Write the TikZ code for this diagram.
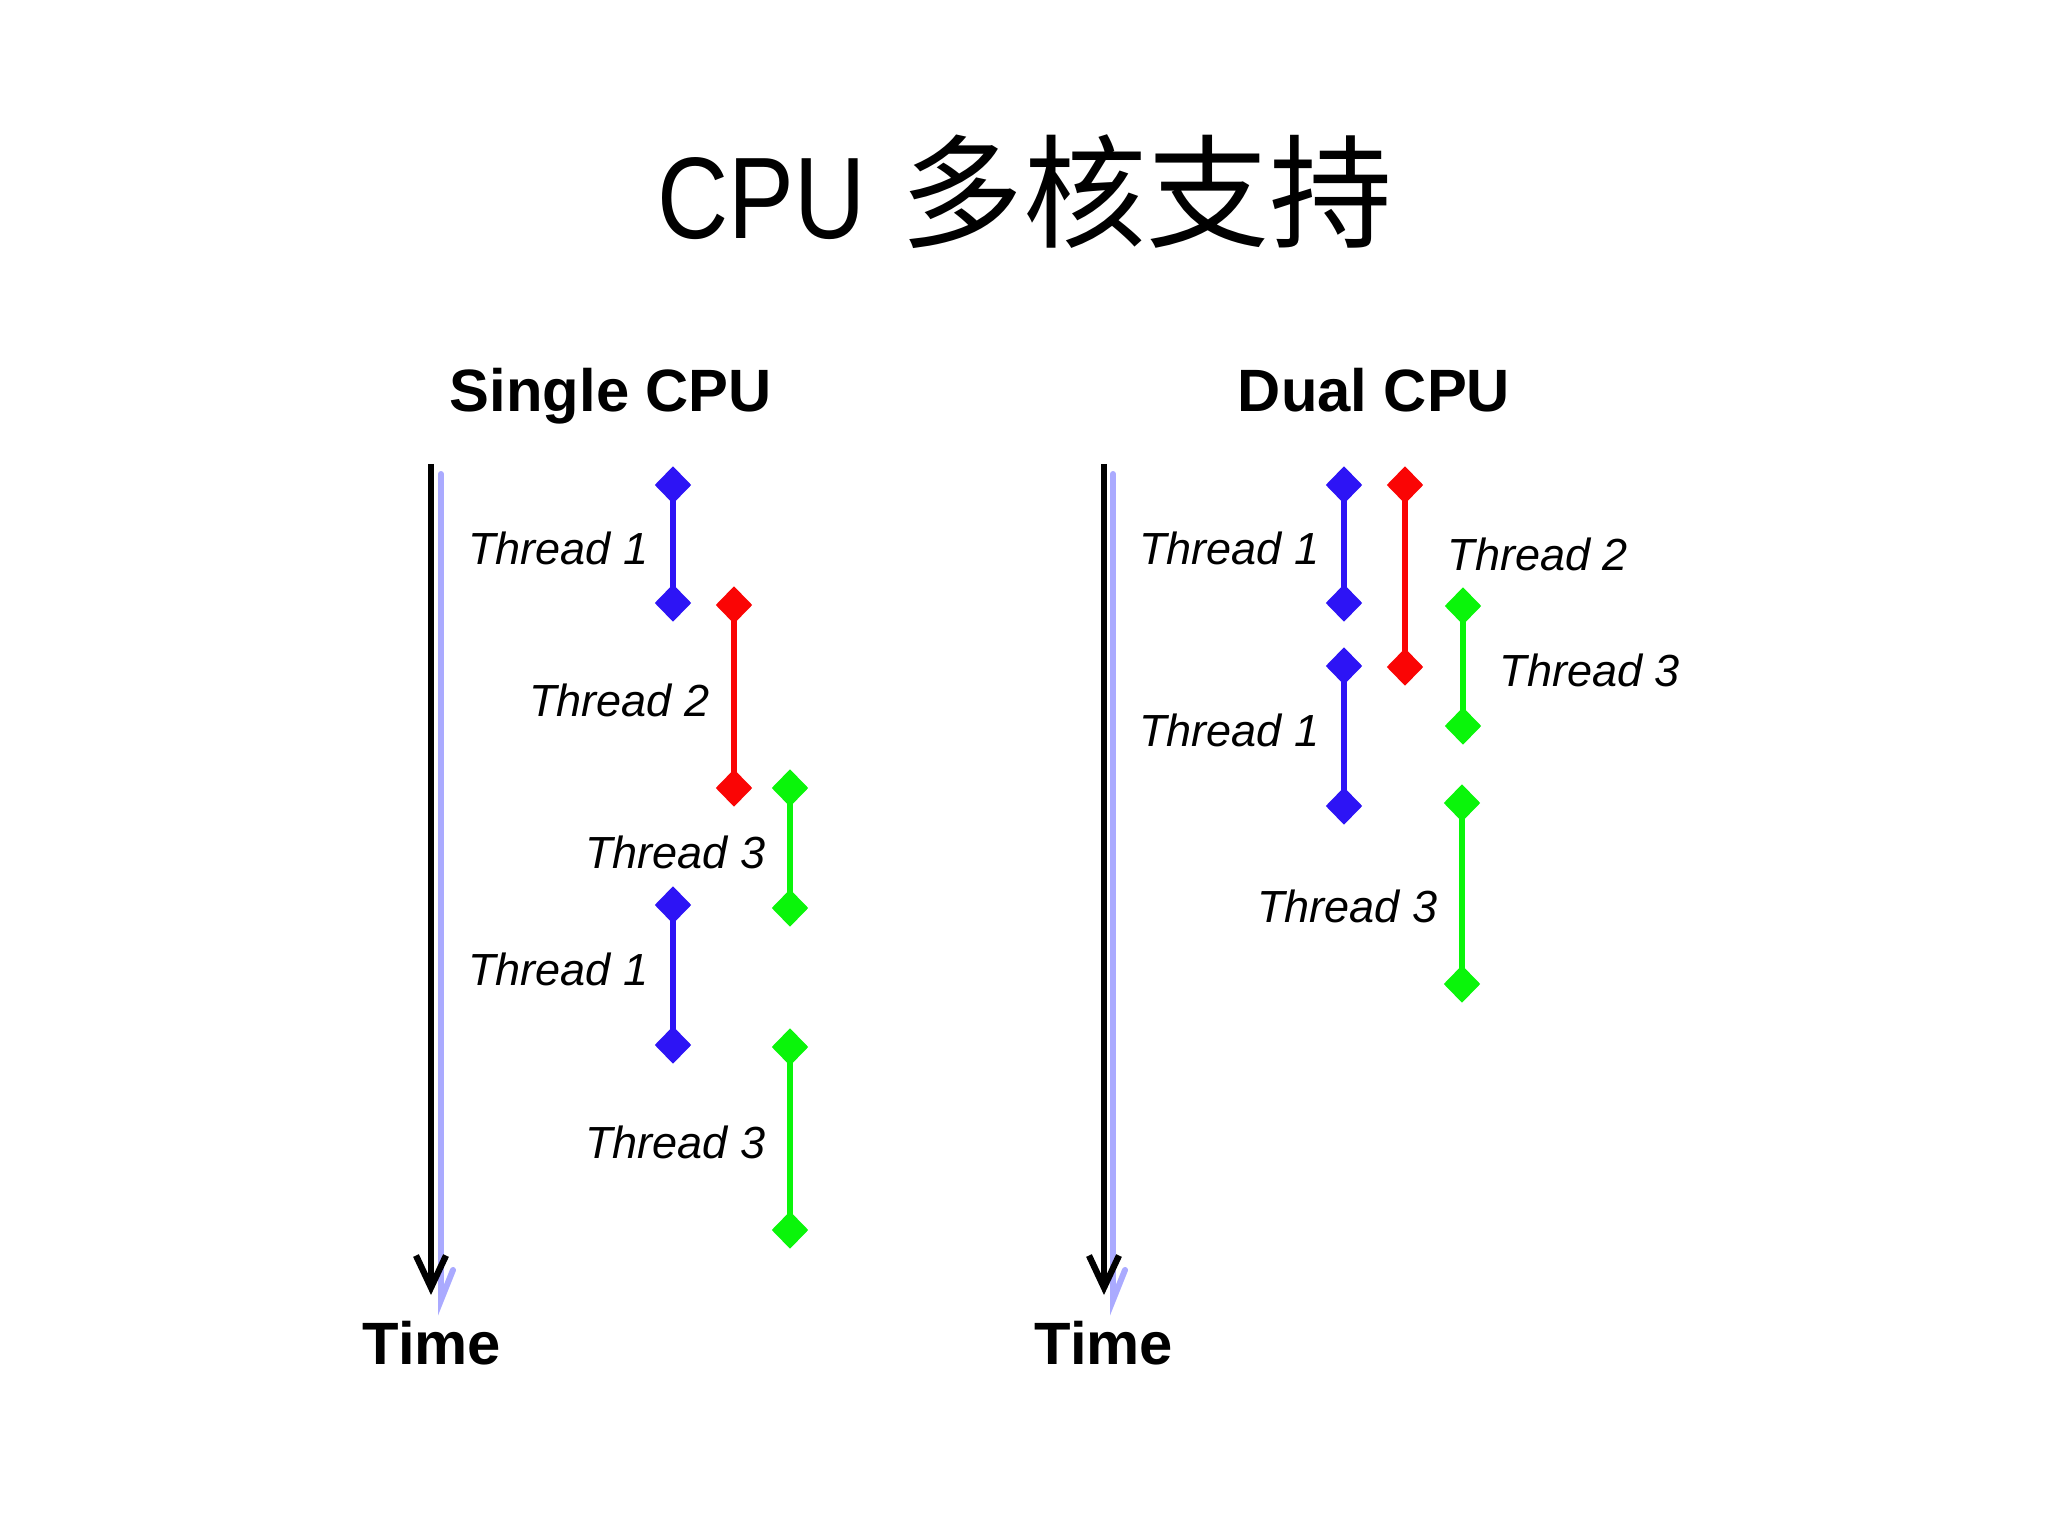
\documentclass[tikz,border=0pt]{standalone}
\usepackage{fontspec}
\setmainfont{Liberation Sans}
\newfontfamily\cjk{Noto Sans CJK SC}
\newfontfamily\narrowsans[FakeStretch=0.85]{Liberation Sans}
\usetikzlibrary{
  positioning,
  shapes.geometric,
  arrows.meta
}
\definecolor{thblue}{RGB}{45,20,245}
\definecolor{thred}{RGB}{250,5,5}
\definecolor{thgreen}{RGB}{10,245,10}
\definecolor{axshade}{RGB}{170,170,255}

\begin{document}
\begin{tikzpicture}[
  x=1cm, y=-1cm,
  tick/.style={
     diamond,
     fill,
     inner sep=0pt,
     minimum width=3.7mm,
     minimum height=3.8mm
  },
  run/.style={line width=1.9pt},
  thread/.style={
     font=\fontsize{12.8}{14}\selectfont\itshape,
     inner sep=0pt,
     yshift=-0.4mm
  },
  heading/.style={
     font=\fontsize{17}{20}\selectfont\bfseries,
     anchor=base,
     inner sep=0pt
  },
  axis/.style={
     line width=1.8pt,
     -{Straight Barb[length=3.2mm,width=3mm,line width=1.8pt]}
  },
  shadow/.style={draw=axshade, line width=1.7pt, line cap=round}
]
   \useasboundingbox (0,0) rectangle (20.48,15.36);

   % Title
   \node[anchor=base, inner sep=0pt] (title) at (10.25,2.39)
      {\fontsize{33}{36}\selectfont\narrowsans CPU\hspace{0.3em}\fontsize{35}{38}\selectfont\cjk 多核支持};

   % Headings
   \node[heading] (single) at (6.11,4.12) {Single CPU};
   \node[heading] (dual) at (13.74,4.12) {Dual CPU};

   % The time axes with their faint shadow
   \coordinate (axL top) at (4.31,4.64);
   \coordinate (axL end) at (4.31,12.95);
   \coordinate (axR top) at (11.04,4.64);
   \coordinate (axR end) at (11.04,12.95);
   \draw[shadow] (4.41,4.74) -- (4.41,13.00) -- (4.53,12.70);
   \draw[shadow] (11.13,4.74) -- (11.13,13.00) -- (11.25,12.70);
   \draw[axis] (axL top) -- (axL end);
   \draw[axis] (axR top) -- (axR end);
   \node[heading] (timeL) at (4.32,13.64) {Time};
   \node[heading] (timeR) at (11.04,13.64) {Time};

   % Single CPU: the threads take turns
   \node[tick,thblue] (a1) at (6.73,4.85) {};
   \node[tick,thblue] (a2) at (6.73,6.03) {};
   \node[tick,thred] (b1) at (7.34,6.05) {};
   \node[tick,thred] (b2) at (7.34,7.88) {};
   \node[tick,thgreen] (c1) at (7.90,7.88) {};
   \node[tick,thgreen] (c2) at (7.90,9.08) {};
   \node[tick,thblue] (d1) at (6.73,9.05) {};
   \node[tick,thblue] (d2) at (6.73,10.45) {};
   \node[tick,thgreen] (e1) at (7.90,10.47) {};
   \node[tick,thgreen] (e2) at (7.90,12.30) {};

   \draw[run,thblue] (a1.center) -- (a2.center);
   \draw[run,thred] (b1.center) -- (b2.center);
   \draw[run,thgreen] (c1.center) -- (c2.center);
   \draw[run,thblue] (d1.center) -- (d2.center);
   \draw[run,thgreen] (e1.center) -- (e2.center);

   \path (a1) -- (a2) node[thread,midway,left=2.4mm] {Thread 1};
   \path (b1) -- (b2) node[thread,midway,left=2.4mm] {Thread 2};
   \path (c1) -- (c2) node[thread,midway,left=2.4mm] {Thread 3};
   \path (d1) -- (d2) node[thread,midway,left=2.4mm,yshift=1mm] {Thread 1};
   \path (e1) -- (e2) node[thread,midway,left=2.4mm] {Thread 3};

   % Dual CPU: two threads at once
   \node[tick,thblue] (f1) at (13.44,4.85) {};
   \node[tick,thblue] (f2) at (13.44,6.03) {};
   \node[tick,thred] (g1) at (14.05,4.85) {};
   \node[tick,thred] (g2) at (14.05,6.67) {};
   \node[tick,thgreen] (h1) at (14.63,6.06) {};
   \node[tick,thgreen] (h2) at (14.63,7.26) {};
   \node[tick,thblue] (k1) at (13.44,6.66) {};
   \node[tick,thblue] (k2) at (13.44,8.06) {};
   \node[tick,thgreen] (m1) at (14.62,8.03) {};
   \node[tick,thgreen] (m2) at (14.62,9.84) {};

   \draw[run,thblue] (f1.center) -- (f2.center);
   \draw[run,thred] (g1.center) -- (g2.center);
   \draw[run,thgreen] (h1.center) -- (h2.center);
   \draw[run,thblue] (k1.center) -- (k2.center);
   \draw[run,thgreen] (m1.center) -- (m2.center);

   \path (f1) -- (f2) node[thread,midway,left=2.4mm] {Thread 1};
   \node[thread,anchor=west] (g label) at (14.47,5.50) {Thread 2};
   \path (h1) -- (h2) node[thread,midway,right=3.6mm] {Thread 3};
   \path (k1) -- (k2) node[thread,midway,left=2.4mm,yshift=1mm] {Thread 1};
   \path (m1) -- (m2) node[thread,midway,left=2.4mm,yshift=-0.9mm] {Thread 3};
\end{tikzpicture}
\end{document}
